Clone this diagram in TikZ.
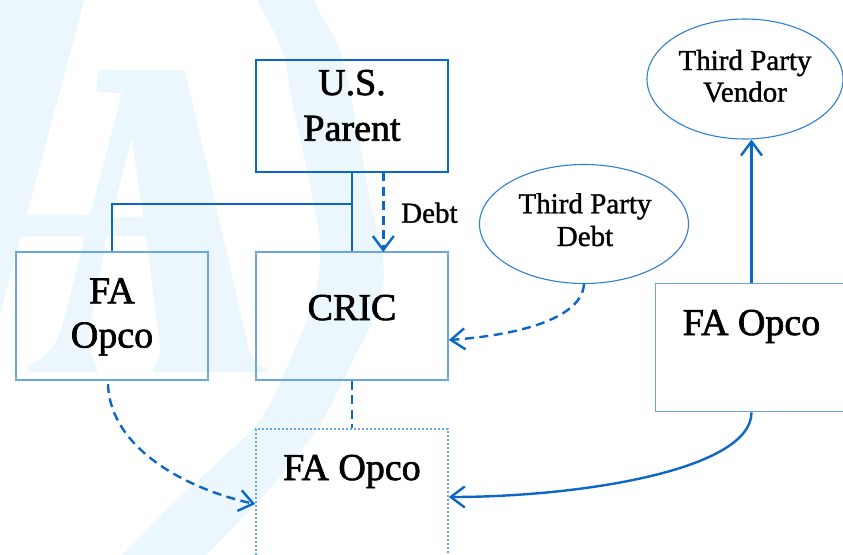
\documentclass[tikz,border=0pt]{standalone}
\usepackage{fontspec}
\setmainfont{Liberation Serif}
\newfontfamily\heavyserif{Liberation Serif}[FakeBold=1.8]
\newfontfamily\midserif{Liberation Serif}[FakeBold=1.2]
\usetikzlibrary{arrows.meta,shapes.geometric}

\definecolor{linkblue}{RGB}{12,104,200}
\definecolor{boxblue}{RGB}{108,166,226}
\definecolor{ovalblue}{RGB}{46,126,212}
\definecolor{wmblue}{RGB}{235,246,253}

\newcommand\bigtxt{\heavyserif\fontsize{38pt}{45pt}\selectfont}
\newcommand\smalltxt{\midserif\fontsize{29pt}{32pt}\selectfont}

\tikzset{
  conn/.style={draw=linkblue, line width=2.4pt},
  dashconn/.style={conn, dash pattern=on 9pt off 5.5pt},
  barbtip/.style={-{Straight Barb[length=14pt,width=21pt]}},
  entity/.style={rectangle, draw=boxblue, line width=1.7pt, minimum width=192pt,
    minimum height=128pt, inner sep=0pt},
  parentbox/.style={entity, draw=linkblue, line width=2.2pt, minimum height=112pt},
  dotbox/.style={entity, line width=1.6pt, dash pattern=on 1.6pt off 2.4pt},
  oval/.style={ellipse, draw=ovalblue, line width=1.1pt, inner sep=0pt},
  bigtext/.style={inner sep=0pt, anchor=base, font=\bigtxt},
  smalltext/.style={inner sep=0pt, anchor=base, font=\smalltxt},
}

\begin{document}
\begin{tikzpicture}[x=1pt, y=-1pt]
\useasboundingbox (0,0) rectangle (843,554);
\clip (0,0) rectangle (843,554);

% faint logo in the background
\begin{scope}
  \fill[wmblue] (-10,0) -- (84.4,0) -- (-10,352) -- cycle;
  \fill[wmblue] (27,214.5) -- (91,214.5) -- (85.5,236.5) -- (21,236.5) -- cycle;
  \fill[wmblue, even odd rule]
    (98,70) -- (185,70) -- (249,350)
    .. controls (252,362) and (260,367) .. (268,369) -- (268,372) -- (153,372) -- (153,369)
    .. controls (158,365) and (161,357) .. (160,345)
    -- (146,236) -- (107,236) -- (89,330)
    .. controls (87,345) and (92,362) .. (97,367) -- (97,372) -- (28,372) -- (28,366)
    .. controls (45,358) and (58,345) .. (63,323)
    -- (121.7,93.3) -- (96.7,92) -- cycle
    (131.7,138.3) -- (143.3,216.7) -- (111.5,216.7) -- cycle;
  \fill[wmblue]
    plot[smooth, tension=0.6] coordinates {(322,-20) (314,0) (340,50) (352,100)
      (370,200) (383,260) (379,305) (353,360) (323,420) (292,462) (255,505)
      (207,554) (185,575)}
    -- plot[smooth, tension=0.6] coordinates {(95,575) (123,554) (177,500)
      (220,460) (260,420) (290,360) (314,300) (320,250) (313,200) (292,100)
      (282,50) (257,0) (250,-20)}
    -- cycle;
\end{scope}

% entities
\node[parentbox] (parent) at (352,116) {};
\node[entity] (faL) at (112,316) {};
\node[entity] (cric) at (352,316) {};
\node[entity] (faR) at (751.5,347.5) {};
\node[dotbox] (faB) at (352,493) {};
\node[oval, minimum width=196pt, minimum height=120pt] (vendor) at (745,79) {};
\node[oval, minimum width=209pt, minimum height=119pt] (tpdebt) at (584,224) {};

% texts
\node[bigtext] (parentA) at (352,95) {U.S.};
\node[bigtext] (parentB) at (352,140.7) {Parent};
\node[bigtext] (faLA) at (112,303.3) {FA};
\node[bigtext] (faLB) at (112,347.5) {Opco};
\node[bigtext] (cricT) at (352,320) {CRIC};
\node[bigtext] (faRT) at (751.5,335) {FA Opco};
\node[bigtext] (faBT) at (352,480) {FA Opco};
\node[smalltext] (vendA) at (745,70) {Third Party};
\node[smalltext] (vendB) at (745,101.7) {Vendor};
\node[smalltext] (tpdA) at (585,213.3) {Third Party};
\node[smalltext] (tpdB) at (585,246) {Debt};
\node[smalltext, anchor=base west] (debtlbl) at (401,222.7) {Debt};

% ownership lines
\coordinate (jn) at (352,204);
\draw[conn] (parent.south) -- (cric.north);
\draw[conn] (jn) -| (faL.north);

% debt flows
\coordinate (debtS) at (383.3,172);
\coordinate (debtE) at (383.3,252);
\draw[dashconn, barbtip] (debtS) -- (debtE);
\draw[dashconn, barbtip] (tpdebt.south) .. controls (582,318) and (520,335) .. ([yshift=-24pt]cric.east);
\draw[dashconn] (cric.south) -- (faB.north);
\coordinate (faLout) at (108,384);
\draw[dashconn, barbtip] (faLout) .. controls (110,450) and (190,490) .. ([yshift=-11pt]faB.west);

% vendor and transfer lines
\draw[conn, barbtip] (faR.north) -- (faR.north |- vendor.south);
\draw[conn, barbtip] (faR.south) .. controls (751.5,470) and (580,497) .. ([yshift=-4pt]faB.east);
\end{tikzpicture}
\end{document}
